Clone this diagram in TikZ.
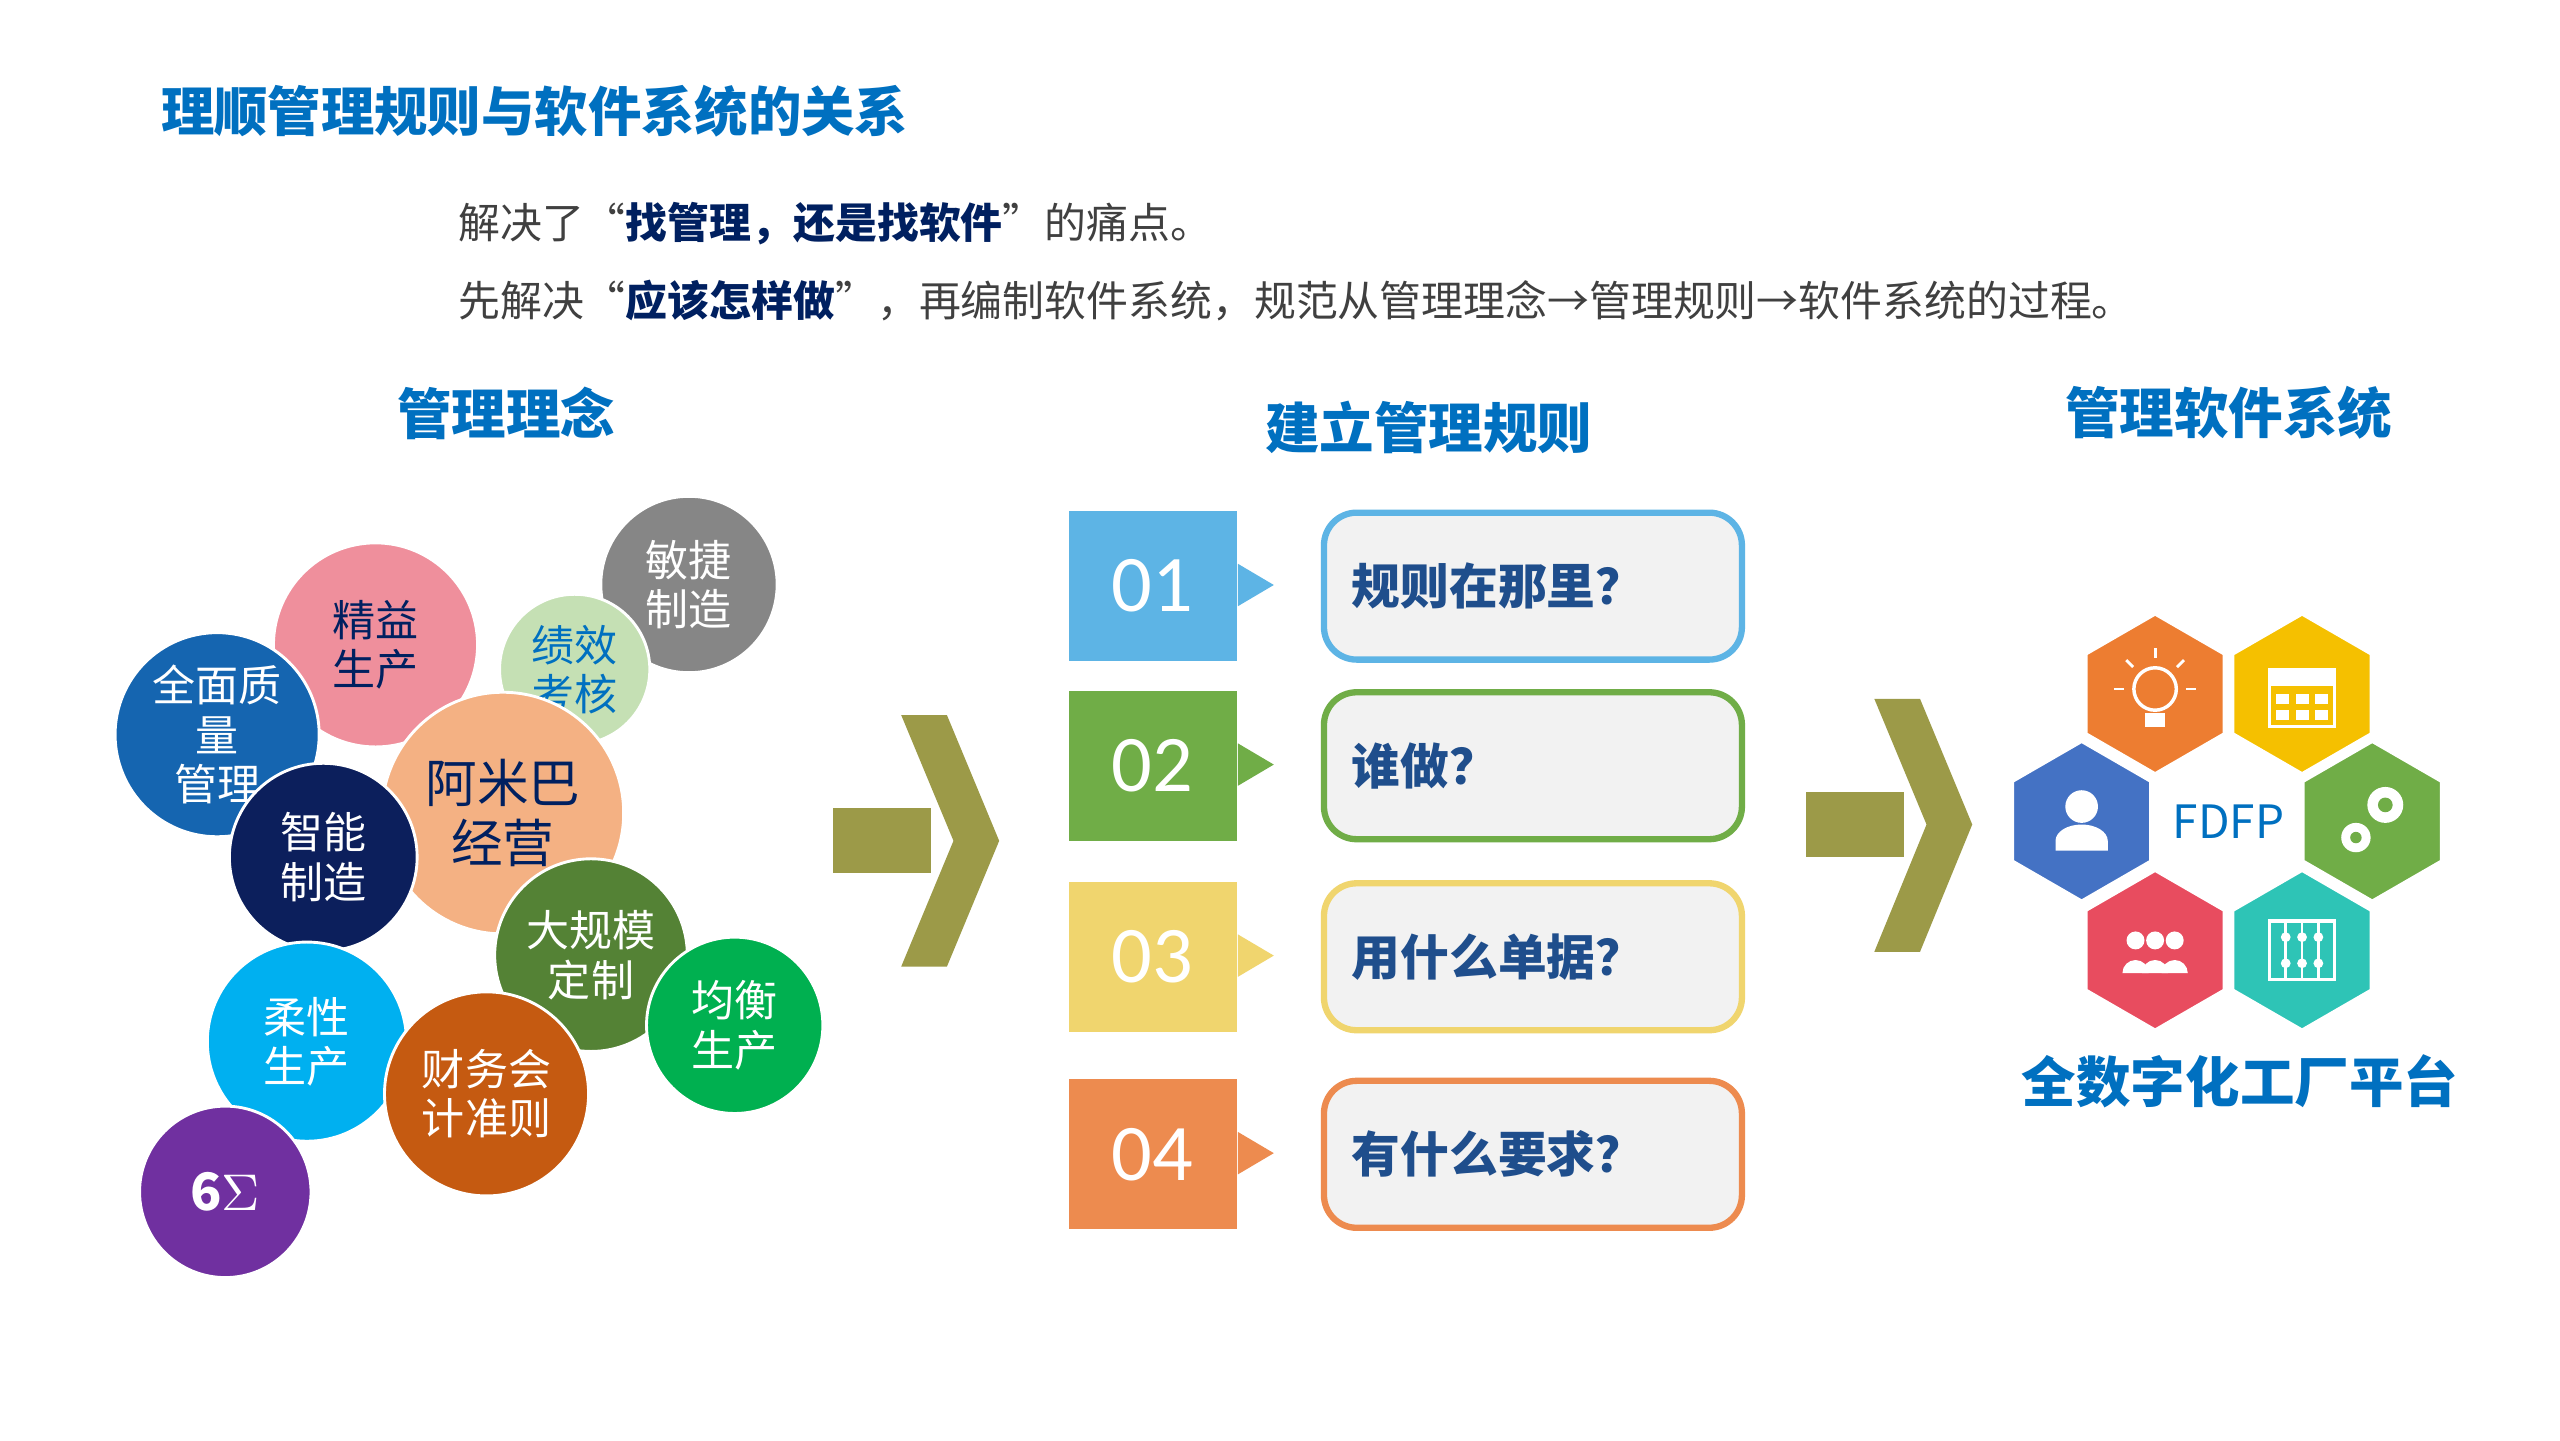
\documentclass[tikz,border=0pt]{standalone}
\usepackage{fontspec}
\setmainfont{Noto Sans CJK SC}
\newfontfamily\numfont{Carlito}
\usetikzlibrary{positioning,calc}
\definecolor{hdblue}{HTML}{0070C0}
\definecolor{txtgray}{HTML}{404040}
\definecolor{navy}{HTML}{002060}
\definecolor{olive}{HTML}{9C9A48}
\definecolor{boxtxt}{HTML}{1F4E8C}
\definecolor{boxfill}{HTML}{F2F2F2}
\definecolor{hxorange}{HTML}{ED7D31}
\definecolor{hxyellow}{HTML}{F5C000}
\definecolor{hxblue}{HTML}{4472C4}
\definecolor{hxgreen}{HTML}{70AD47}
\definecolor{hxred}{HTML}{E84C5F}
\definecolor{hxteal}{HTML}{2EC4B6}

\tikzset{
  bubble/.style={circle,draw=white,line width=0.5pt,inner sep=0pt,align=center,
    text=white,font=\fontsize{7.5}{8.6}\selectfont},
  heading/.style={text=hdblue,font=\fontsize{9.5}{11}\bfseries\selectfont},
  numblock/.style={fill=#1,minimum width=10.3mm,minimum height=9.2mm,inner sep=0pt,
    text=white,font=\numfont\fontsize{14}{14}\selectfont},
  rulebox/.style={draw=#1,line width=1.1pt,fill=boxfill,rounded corners=2mm,
    minimum width=25.6mm,minimum height=9mm,text=boxtxt,anchor=west,inner sep=0pt,
    text width=25.6mm,font=\fontsize{8.5}{10}\bfseries\selectfont},
  hexa/.style={fill=#1,draw=white,line width=0.6pt}
}
\newcommand{\hexat}[2]{%
  \filldraw[hexa=#2] (#1) ++(90:4.9mm) -- ++(210:4.9mm) -- ++(270:4.9mm) -- ++(330:4.9mm)
    -- ++(30:4.9mm) -- ++(90:4.9mm) -- cycle;}

\begin{document}
\begin{tikzpicture}[x=0.1mm,y=-0.1mm]
    \useasboundingbox[fill=white] (0,0) rectangle (1568,882);

    % Title and notes
    \node[anchor=west,inner sep=0pt,text=hdblue,font=\fontsize{9.3}{10}\bfseries\selectfont] (title) at (98,68) {理顺管理规则与软件系统的关系};
    \node[anchor=west,inner sep=0pt,text=txtgray,font=\fontsize{7.3}{8}\selectfont] (note1) at (280,137)
        {解决了“\textcolor{navy}{\bfseries 找管理，还是找软件}”的痛点。};
    \node[anchor=west,inner sep=0pt,text=txtgray,font=\fontsize{7.3}{8}\selectfont] (note2) at (280,184)
        {先解决“\textcolor{navy}{\bfseries 应该怎样做}”，再编制软件系统，规范从管理理念→管理规则→软件系统的过程。};

    % Headings
    \node[heading] (h1) at (310,253) {管理理念};
    \node[heading] (h2) at (875,262) {建立管理规则};
    \node[heading] (h3) at (1365,253) {管理软件系统};

    % Concept bubbles
    \node[bubble,fill=gray!95,minimum size=10.8mm] (b1) at (422,358) {敏捷\\制造};
    \node[bubble,fill={rgb,255:red,239;green,143;blue,156},text=navy,minimum size=12.5mm] (b2) at (230,395) {精益\\生产};
    \node[bubble,fill={rgb,255:red,21;green,101;blue,176},minimum size=12.5mm] (b3) at (133,450) {全面质\\量\\管理};
    \node[bubble,fill={rgb,255:red,197;green,224;blue,180},text=hdblue,minimum size=9.2mm] (b4) at (352,410) {绩效\\考核};
    \node[bubble,fill={rgb,255:red,244;green,177;blue,131},text=navy,minimum size=14.8mm,font=\fontsize{9}{10.5}\selectfont] (b5) at (308,498) {阿米巴\\经营};
    \node[bubble,fill={rgb,255:red,12;green,31;blue,92},minimum size=11.5mm] (b6) at (198,525) {智能\\制造};
    \node[bubble,fill={rgb,255:red,84;green,130;blue,53},minimum size=11.8mm] (b7) at (362,585) {大规模\\定制};
    \node[bubble,fill={rgb,255:red,0;green,176;blue,80},minimum size=10.8mm] (b8) at (450,628) {均衡\\生产};
    \node[bubble,fill={rgb,255:red,0;green,176;blue,240},minimum size=12.2mm] (b9) at (188,638) {柔性\\生产};
    \node[bubble,fill={rgb,255:red,197;green,90;blue,17},minimum size=12.5mm] (b10) at (298,670) {财务会\\计准则};
    \node[bubble,fill={rgb,255:red,112;green,48;blue,160},minimum size=10.5mm,font=\fontsize{9}{10}\bfseries\selectfont] (b11) at (138,730) {6$\Sigma$};

    % Big arrows
    \fill[olive] (510,495) rectangle (570,535);
    \fill[olive] (552,438) -- (580,438) -- (612,515) -- (580,592) -- (552,592) -- (584,515) -- cycle;
    \fill[olive] (1106,485) rectangle (1166,525);
    \fill[olive] (1148,428) -- (1176,428) -- (1208,505) -- (1176,583) -- (1148,583) -- (1180,505) -- cycle;

    % Rule steps
    \foreach \n/\y/\c/\q in {01/359/5DB4E5/规则在那里？, 02/469/70AD47/谁做？,
                             03/586/F0D56E/用什么单据？, 04/707/ED8B4F/有什么要求？} {
        \definecolor{stc}{HTML}{\c}
        \node[numblock=stc] (n\n) at (706,\y) {\n};
        \fill[stc] (n\n.north east) ++(0,33) -- ++(22,13) -- ++(-22,13) -- cycle;
        \node[rulebox=stc] (r\n) at (809,\y) {\hspace*{1.7mm}\q};
    }

    % Hexagon platform
    \coordinate (x1) at (1320,425);
    \coordinate (x2) at (1410,425);
    \coordinate (x3) at (1275,503);
    \coordinate (x4) at (1453,503);
    \coordinate (x5) at (1320,582);
    \coordinate (x6) at (1410,582);
    \hexat{x1}{hxorange}
    \hexat{x2}{hxyellow}
    \hexat{x3}{hxblue}
    \hexat{x4}{hxgreen}
    \hexat{x5}{hxred}
    \hexat{x6}{hxteal}
    \node[text=hdblue,font=\fontsize{8}{9}\selectfont] (fdfp) at (1365,503) {FDFP};

    % Icons
    \draw[white,line width=0.6pt] ($(x1)+(0,-3)$) circle (1.3mm);
    \fill[white] ($(x1)+(-6,12)$) rectangle ($(x1)+(6,20)$);
    \foreach \a in {90,135,45,180,0} \draw[white,line width=0.5pt] ($(x1)+(0,-3)+(\a:-19)$) -- ($(x1)+(0,-3)+(\a:-25)$);
    \draw[white,line width=0.6pt] ($(x2)+(-20,-15)$) rectangle ($(x2)+(20,20)$);
    \fill[white] ($(x2)+(-20,-15)$) rectangle ($(x2)+(20,-5)$);
    \foreach \i in {-12,0,12} \foreach \j in {3,13} \fill[white] ($(x2)+(\i,\j)+(-4,-3)$) rectangle ++(8,6);
    \fill[white] ($(x3)+(0,-9)$) circle (1mm);
    \fill[white] ($(x3)+(-16,18)$) -- ($(x3)+(-16,12)$) arc (180:360:16 and 10) -- ($(x3)+(16,18)$) -- cycle;
    \fill[white] ($(x4)+(8,-10)$) circle (1.1mm);
    \fill[white] ($(x4)+(-10,10)$) circle (0.9mm);
    \fill[hxgreen] ($(x4)+(8,-10)$) circle (0.45mm);
    \fill[hxgreen] ($(x4)+(-10,10)$) circle (0.35mm);
    \foreach \d in {-12,0,12} {
        \fill[white] ($(x5)+(\d,-6)$) circle (0.55mm);
        \fill[white] ($(x5)+(\d,14)+(-8,0)$) arc (180:360:8) -- cycle;
    }
    \draw[white,line width=0.6pt] ($(x6)+(-20,-18)$) rectangle ($(x6)+(20,18)$);
    \foreach \i in {-10,0,10} \draw[white,line width=0.5pt] ($(x6)+(\i,-18)$) -- ($(x6)+(\i,18)$);
    \foreach \i in {-10,0,10} \foreach \j in {-8,8} \fill[white] ($(x6)+(\i,\j)$) circle (0.3mm);
    \node[text=hdblue,font=\fontsize{9.5}{11}\bfseries\selectfont] (plat) at (1372,662) {全数字化工厂平台};
\end{tikzpicture}
\end{document}
